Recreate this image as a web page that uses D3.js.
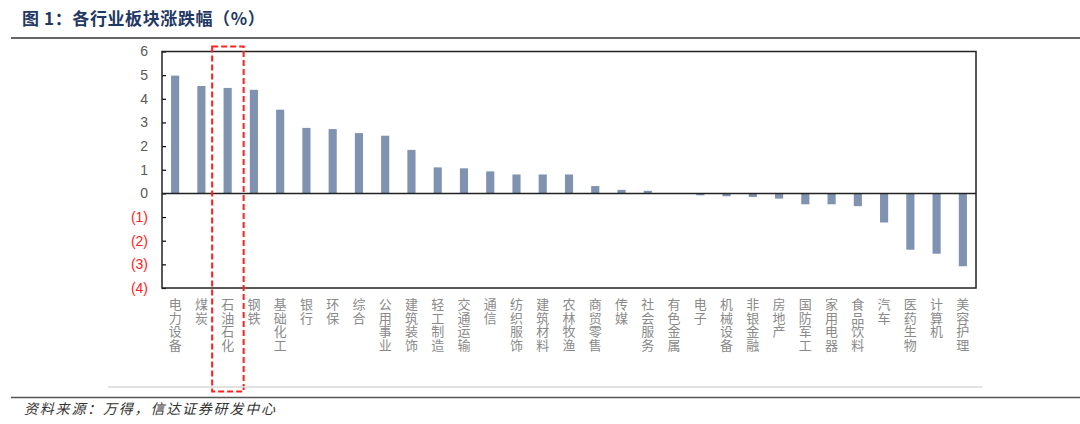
<!DOCTYPE html>
<html><head><meta charset="utf-8">
<script src="https://cdn.jsdelivr.net/npm/d3@7/dist/d3.min.js"></script>
<style>body{margin:0;background:#fff}svg{display:block}</style>
</head><body><svg id="c" width="1080" height="424"></svg>
<script>
const categories=["电力设备","煤炭","石油石化","钢铁","基础化工","银行","环保","综合","公用事业","建筑装饰","轻工制造","交通运输","通信","纺织服饰","建筑材料","农林牧渔","商贸零售","传媒","社会服务","有色金属","电子","机械设备","非银金融","房地产","国防军工","家用电器","食品饮料","汽车","医药生物","计算机","美容护理"];
const values=[4.98,4.54,4.46,4.38,3.54,2.77,2.72,2.55,2.44,1.84,1.10,1.06,0.93,0.80,0.80,0.80,0.31,0.15,0.11,0.01,-0.08,-0.12,-0.15,-0.22,-0.46,-0.46,-0.54,-1.23,-2.38,-2.55,-3.08];
const yTicks=[6,5,4,3,2,1,0,-1,-2,-3,-4];
const highlight="石油石化";
const title="图 1：各行业板块涨跌幅（%）";
const source="资料来源：万得，信达证券研发中心";

const svg=d3.select("#c");
const L=162,R=976,T=51.5,B=288;
const x=d3.scaleBand().domain(categories).range([L,R]).paddingInner(0.69).paddingOuter(0.345);
const y=d3.scaleLinear().domain([-4,6]).range([B,T]);

// title
svg.append("text").attr("x",22).attr("y",25).attr("font-family","'Noto Sans CJK SC'").attr("font-weight","bold")
  .attr("font-size",17).attr("letter-spacing",0.6).attr("fill","#1f3864").text(title);
svg.append("line").attr("x1",11).attr("x2",1080).attr("y1",38).attr("y2",38).attr("stroke","#666").attr("stroke-width",2);

// bars
svg.selectAll("rect.bar").data(values).join("rect").attr("class","bar")
  .attr("x",(d,i)=>x(categories[i])).attr("width",x.bandwidth())
  .attr("y",d=>y(Math.max(0,d))).attr("height",d=>Math.abs(y(d)-y(0)))
  .attr("fill","#7f92b0");

// axes
const ya=svg.append("g").attr("transform",`translate(${L},0)`)
  .call(d3.axisLeft(y).tickValues(yTicks).tickSize(-4).tickPadding(14).tickFormat(d=>d<0?`(${-d})`:d));
ya.select(".domain").remove();
ya.selectAll(".tick line").attr("stroke","#000").attr("stroke-width",1.2);
ya.selectAll(".tick text").attr("font-family","'Liberation Sans',Arial").attr("font-size",14)
  .attr("fill",d=>d<0?"#ff2020":"#595959");
// frame
svg.append("rect").attr("x",L).attr("y",T).attr("width",R-L).attr("height",B-T).attr("fill","none").attr("stroke","#222").attr("stroke-width",1.5);
svg.append("line").attr("x1",L).attr("x2",R).attr("y1",y(0)).attr("y2",y(0)).attr("stroke","#222").attr("stroke-width",1.5);

// x labels vertical
svg.append("g").selectAll("text").data(categories).join("text")
  .attr("x",d=>x(d)+x.bandwidth()/2).attr("y",298)
  .style("writing-mode","vertical-rl").style("text-orientation","upright")
  .attr("font-family","'Noto Sans CJK SC'").attr("font-size",13).attr("letter-spacing",0.5)
  .attr("fill","#8a8a8a").text(d=>d);

// highlight box
const hb=x(highlight)+x.bandwidth()/2;
svg.append("rect").attr("x",hb-15.5).attr("y",46.5).attr("width",31.5).attr("height",345).attr("fill","none")
  .attr("stroke","#ff2020").attr("stroke-width",2).attr("stroke-dasharray","6,3");

// bottom lines & source
svg.append("line").attr("x1",108).attr("x2",982).attr("y1",387).attr("y2",387).attr("stroke","#d9d9d9").attr("stroke-width",1.5);
svg.append("line").attr("x1",11).attr("x2",1080).attr("y1",397.5).attr("y2",397.5).attr("stroke","#555").attr("stroke-width",1.5);
svg.append("text").attr("x",24).attr("y",414).attr("font-family","'Noto Sans CJK SC'").attr("font-style","italic")
  .attr("font-size",14).attr("letter-spacing",1.8).attr("fill","#333").text(source);
</script></body></html>
